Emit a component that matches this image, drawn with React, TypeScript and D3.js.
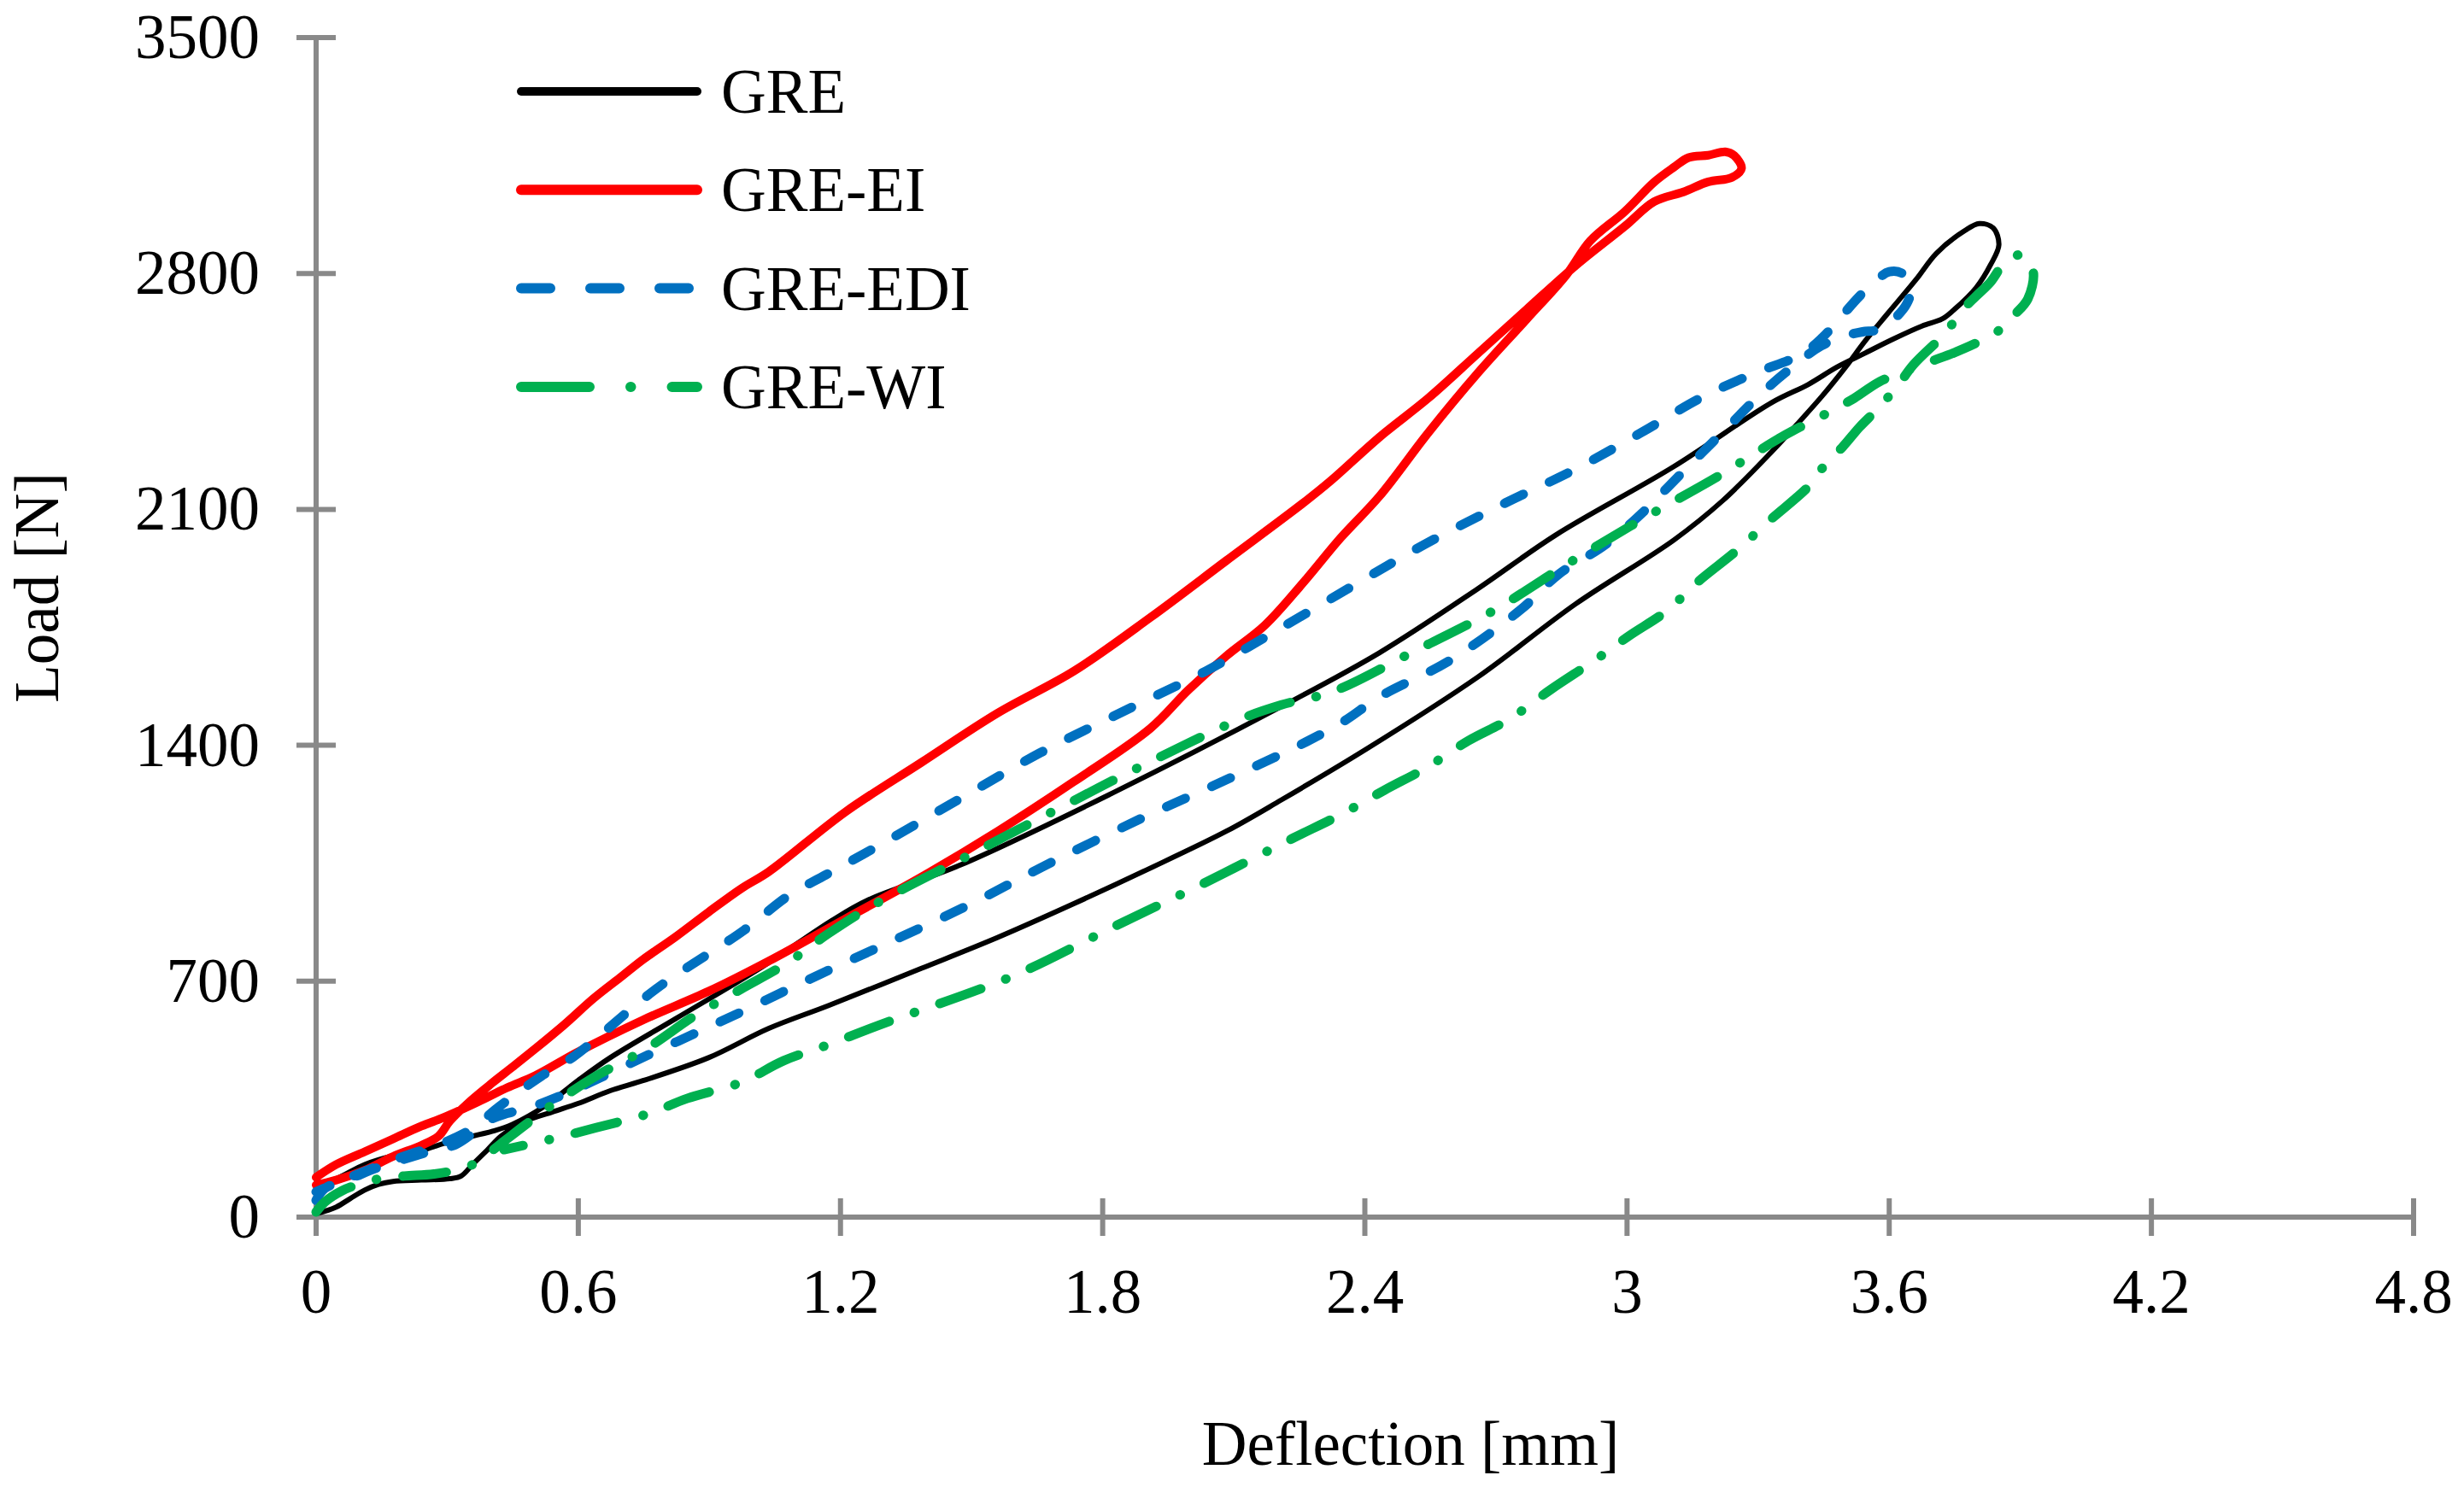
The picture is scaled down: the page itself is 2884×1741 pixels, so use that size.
import * as d3 from "d3";

const W = 2884;
const H = 1741;
const X0 = 370;
const X1 = 2825;
const Y0 = 1425;
const Y1 = 44;
const AXIS = "#898989";
const FONT = "'Liberation Serif', 'Times New Roman', serif";

const X_TICKS = [0, 0.6, 1.2, 1.8, 2.4, 3, 3.6, 4.2, 4.8];
const X_LABELS = ["0", "0.6", "1.2", "1.8", "2.4", "3", "3.6", "4.2", "4.8"];
const Y_TICKS = [0, 700, 1400, 2100, 2800, 3500];

// [deflection mm, load N], loading then unloading
const GRE: [number, number][] = [
	[0, 10], [0.046, 30], [0.078, 55], [0.111, 80], [0.143, 97], [0.176, 106], [0.241, 110],
	[0.306, 114], [0.332, 122], [0.358, 156], [0.391, 198], [0.424, 241], [0.476, 283],
	[0.541, 312], [0.599, 337], [0.673, 375], [0.748, 405], [0.898, 473], [1.036, 560],
	[1.173, 628], [1.385, 738], [1.56, 830], [1.734, 930], [1.9, 1030], [2.083, 1145],
	[2.209, 1238], [2.405, 1390], [2.658, 1602], [2.883, 1820], [3.107, 2009], [3.219, 2126],
	[3.331, 2271], [3.395, 2361], [3.447, 2437], [3.5, 2522], [3.545, 2600], [3.597, 2682],
	[3.662, 2783], [3.708, 2860], [3.773, 2927], [3.806, 2948], [3.838, 2935], [3.851, 2885],
	[3.832, 2826], [3.799, 2758], [3.747, 2691], [3.721, 2665], [3.675, 2644], [3.61, 2606],
	[3.545, 2564], [3.48, 2522], [3.415, 2471], [3.331, 2417], [3.107, 2227], [2.837, 2024],
	[2.658, 1864], [2.434, 1675], [2.209, 1515], [1.822, 1258], [1.473, 1044], [1.263, 941],
	[1.18, 880], [1.018, 740], [0.823, 589], [0.673, 473], [0.599, 405], [0.524, 330],
	[0.449, 275], [0.404, 255], [0.306, 224], [0.241, 198], [0.176, 182], [0.111, 156],
	[0.046, 114], [0, 97],
];

const GRE_EI: [number, number][] = [
	[0, 95], [0.046, 110], [0.111, 139], [0.176, 180], [0.241, 213], [0.28, 240], [0.306, 285],
	[0.345, 335], [0.4, 395], [0.449, 445], [0.502, 500], [0.567, 570], [0.636, 650],
	[0.7, 715], [0.748, 764], [0.823, 832], [0.898, 905], [0.973, 975], [1.036, 1025],
	[1.211, 1202], [1.385, 1349], [1.56, 1496], [1.734, 1620], [1.909, 1779], [2.083, 1948],
	[2.258, 2118], [2.321, 2184], [2.434, 2315], [2.546, 2431], [2.658, 2562], [2.77, 2693],
	[2.883, 2824], [2.995, 2940], [3.062, 3013], [3.129, 3042], [3.186, 3072], [3.24, 3085],
	[3.262, 3112], [3.245, 3150], [3.225, 3161], [3.186, 3151], [3.141, 3144], [3.107, 3115],
	[3.062, 3071], [2.995, 2984], [2.916, 2897], [2.86, 2794], [2.77, 2664], [2.658, 2504],
	[2.546, 2329], [2.434, 2140], [2.345, 2016], [2.258, 1881], [2.171, 1756], [2.083, 1665],
	[1.996, 1564], [1.909, 1450], [1.734, 1292], [1.56, 1145], [1.385, 1009], [1.211, 885],
	[1.036, 760], [0.898, 670], [0.748, 585], [0.599, 490], [0.502, 420], [0.437, 384],
	[0.371, 342], [0.293, 296], [0.241, 270], [0.176, 232], [0.111, 194], [0.046, 156], [0, 118],
];

const GRE_EDI: [number, number][] = [
	[0, 50], [0.02, 85], [0.078, 114], [0.143, 148], [0.209, 175], [0.274, 200], [0.319, 215],
	[0.36, 250], [0.4, 290], [0.437, 308], [0.476, 320], [0.554, 357], [0.763, 483],
	[0.965, 604], [1.071, 670], [1.152, 720], [1.276, 794], [1.49, 924], [1.686, 1055],
	[1.9, 1190], [2.092, 1303], [2.267, 1411], [2.354, 1473], [2.434, 1544], [2.596, 1653],
	[2.759, 1805], [2.843, 1907], [2.95, 1995], [3.04, 2096], [3.107, 2184], [3.174, 2271],
	[3.241, 2358], [3.309, 2446], [3.376, 2520], [3.444, 2585], [3.5, 2615], [3.539, 2627],
	[3.571, 2632], [3.604, 2657], [3.64, 2710], [3.65, 2760], [3.63, 2800], [3.6, 2805],
	[3.575, 2785], [3.53, 2730], [3.489, 2670], [3.447, 2610], [3.399, 2560], [3.292, 2504],
	[3.169, 2431], [3.034, 2329], [2.883, 2220], [2.72, 2118], [2.535, 1995], [2.366, 1868],
	[2.188, 1733], [2.036, 1620], [1.848, 1501], [1.656, 1377], [1.473, 1241], [1.276, 1094],
	[1.167, 1016], [1.08, 953], [0.98, 852], [0.778, 677], [0.591, 478], [0.515, 418],
	[0.469, 376], [0.411, 320], [0.36, 265], [0.3, 225], [0.2, 180], [0.1, 130], [0, 75],
];

const GRE_WI: [number, number][] = [
	[0, 15], [0.02, 45], [0.059, 78], [0.104, 100], [0.147, 114], [0.202, 122], [0.27, 128],
	[0.345, 148], [0.378, 173], [0.43, 225], [0.48, 275], [0.539, 332], [0.636, 415],
	[0.756, 500], [0.868, 599], [0.973, 677], [1.078, 754], [1.173, 842], [1.281, 930],
	[1.49, 1071], [1.7, 1213], [1.896, 1343], [2.118, 1479], [2.209, 1520], [2.328, 1560],
	[2.507, 1675], [2.692, 1798], [2.871, 1944], [3.04, 2075], [3.208, 2198], [3.354, 2315],
	[3.46, 2387], [3.52, 2430], [3.578, 2479], [3.643, 2513], [3.695, 2539], [3.747, 2564],
	[3.806, 2598], [3.851, 2631], [3.884, 2674], [3.917, 2724], [3.93, 2801], [3.915, 2845],
	[3.897, 2855], [3.865, 2834], [3.832, 2775], [3.799, 2733], [3.767, 2691], [3.728, 2623],
	[3.656, 2530], [3.617, 2463], [3.571, 2395], [3.532, 2344], [3.493, 2285], [3.454, 2234],
	[3.416, 2169], [3.326, 2067], [3.253, 1980], [3.163, 1886], [3.09, 1798], [3.006, 1726],
	[2.927, 1653], [2.826, 1566], [2.731, 1478], [2.636, 1413], [2.54, 1333], [2.445, 1267],
	[2.344, 1194], [2.232, 1122], [2.026, 987], [1.826, 862], [1.594, 715], [1.289, 570],
	[1.173, 512], [1.07, 464], [0.973, 400], [0.849, 352], [0.763, 308], [0.64, 265],
	[0.55, 235], [0.43, 200],
];

const SERIES = [
	{ name: "GRE", data: GRE, color: "#000000", width: 6, dash: "", lw: 10, ldash: "" },
	{ name: "GRE-EI", data: GRE_EI, color: "#FF0000", width: 10, dash: "", lw: 12, ldash: "" },
	{ name: "GRE-EDI", data: GRE_EDI, color: "#0070C0", width: 11, dash: "24 34", lw: 12, ldash: "34 47" },
	{ name: "GRE-WI", data: GRE_WI, color: "#00B050", width: 11, dash: "51 31 0.5 31", lw: 12, ldash: "80 48 0.5 48" },
];

export default function App() {
	const x = d3.scaleLinear().domain([0, 4.8]).range([X0, X1]);
	const y = d3.scaleLinear().domain([0, 3500]).range([Y0, Y1]);

	const line = d3
		.line<[number, number]>()
		.x((d) => x(d[0]))
		.y((d) => y(d[1]))
		.curve(d3.curveCatmullRom.alpha(0.5));

	return (
		<svg
			width={W}
			height={H}
			viewBox={`0 0 ${W} ${H}`}
			style={{ position: "absolute", left: 0, top: 0, background: "#fff" }}
			fontFamily={FONT}
		>
			<rect width={W} height={H} fill="#fff" />

			{/* axes */}
			<g stroke={AXIS} strokeWidth={6}>
				<line x1={X0} x2={X0} y1={y(3500)} y2={Y0} />
				<line x1={X0} x2={X1} y1={Y0} y2={Y0} />
				{Y_TICKS.map((t) => (
					<line key={t} x1={X0 - 23} x2={X0 + 23} y1={y(t)} y2={y(t)} />
				))}
				{X_TICKS.map((t) => (
					<line key={t} x1={x(t)} x2={x(t)} y1={Y0 - 22} y2={Y0 + 22} />
				))}
			</g>

			<g fontSize={73} fill="#000">
				{Y_TICKS.map((t) => (
					<text key={t} x={304} y={y(t) + 24} textAnchor="end">
						{t}
					</text>
				))}
				{X_TICKS.map((t, i) => (
					<text key={t} x={x(t)} y={1537} textAnchor="middle">
						{X_LABELS[i]}
					</text>
				))}
				<text x={1651} y={1715} textAnchor="middle">
					Deflection [mm]
				</text>
				<text x={68} y={688} textAnchor="middle" transform="rotate(-90 68 688)">
					Load [N]
				</text>
			</g>

			{/* series */}
			{SERIES.map((s) => (
				<path
					key={s.name}
					d={line(s.data) ?? ""}
					fill="none"
					stroke={s.color}
					strokeWidth={s.width}
					strokeDasharray={s.dash || undefined}
					strokeLinecap="round"
					strokeLinejoin="round"
				/>
			))}

			{/* legend */}
			{SERIES.map((s, i) => {
				const ly = 107 + i * 115.3;
				return (
					<g key={s.name}>
						<line
							x1={610}
							x2={816}
							y1={ly}
							y2={ly}
							stroke={s.color}
							strokeWidth={s.lw}
							strokeDasharray={s.ldash || undefined}
							strokeLinecap="round"
						/>
						<text x={844} y={ly + 25} fontSize={73} fill="#000">
							{s.name}
						</text>
					</g>
				);
			})}
		</svg>
	);
}
